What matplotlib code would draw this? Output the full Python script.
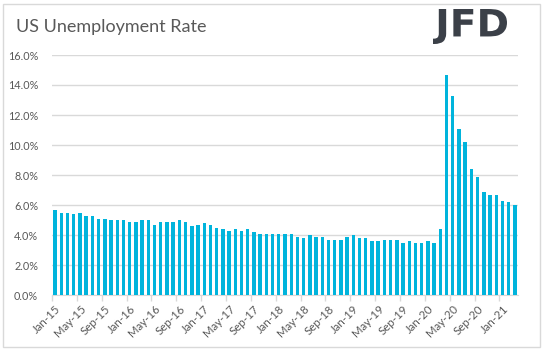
import matplotlib.pyplot as plt
from matplotlib.patches import Rectangle, PathPatch
from matplotlib.textpath import TextPath
from matplotlib.font_manager import FontProperties
from matplotlib.transforms import Affine2D
from matplotlib.ticker import FuncFormatter

# monthly US unemployment rate, Jan-15 .. Mar-21 (percent)
months = ["Jan", "Feb", "Mar", "Apr", "May", "Jun",
          "Jul", "Aug", "Sep", "Oct", "Nov", "Dec"]
years = [15, 16, 17, 18, 19, 20, 21]
rate_2015 = [5.7, 5.5, 5.5, 5.4, 5.5, 5.3, 5.3, 5.1, 5.1, 5.0, 5.0, 5.0]
rate_2016 = [4.9, 4.9, 5.0, 5.0, 4.7, 4.9, 4.9, 4.9, 5.0, 4.9, 4.6, 4.7]
rate_2017 = [4.8, 4.7, 4.5, 4.4, 4.3, 4.4, 4.3, 4.4, 4.2, 4.1, 4.1, 4.1]
rate_2018 = [4.1, 4.1, 4.1, 3.9, 3.8, 4.0, 3.9, 3.9, 3.7, 3.7, 3.7, 3.9]
rate_2019 = [4.0, 3.8, 3.8, 3.6, 3.6, 3.7, 3.7, 3.7, 3.5, 3.6, 3.5, 3.5]
rate_2020 = [3.6, 3.5, 4.4, 14.7, 13.3, 11.1, 10.2, 8.4, 7.9, 6.9, 6.7, 6.7]
rate_2021 = [6.3, 6.2, 6.0]

rates = rate_2015 + rate_2016 + rate_2017 + rate_2018 + rate_2019 + rate_2020 + rate_2021
labels = [f"{m}-{y}" for y in years for m in months][:len(rates)]

grey = "#595959"
bar_col = "#00B4DC"
font = "Lato"

fig = plt.figure(figsize=(5.43, 3.51), dpi=100)
ax = fig.add_axes([52 / 543, 1 - 295 / 351, 466 / 543, 240 / 351])

x = list(range(len(rates)))
ax.bar(x, [r / 100 for r in rates], width=0.55, color=bar_col, zorder=3)

ax.set_xlim(-0.5, len(rates) - 0.5)
ax.set_ylim(0, 0.16)
ax.set_yticks([i * 0.02 for i in range(9)])
ax.yaxis.set_major_formatter(FuncFormatter(lambda v, p: f"{v * 100:.1f}%"))
ax.grid(axis="y", color="#D9D9D9", linewidth=1, zorder=0)

# labels on every 4th category centre, tick marks at category edges
ax.set_xticks(x[::4])
ax.set_xticklabels(labels[::4], rotation=45, ha="right", rotation_mode="anchor")
ax.set_xticks([i - 0.5 for i in x[::4]], minor=True)
ax.tick_params(axis="x", which="major", length=0, pad=6, labelsize=8.3, labelcolor=grey)
ax.tick_params(axis="x", which="minor", length=4, color="#D9D9D9", width=1)
ax.tick_params(axis="y", length=0, pad=10, labelsize=7.8, labelcolor=grey)
for lab in ax.get_xticklabels() + ax.get_yticklabels():
    lab.set_family(font)

for s in ["top", "right", "left"]:
    ax.spines[s].set_visible(False)
ax.spines["bottom"].set_color("#D9D9D9")

fig.text(16 / 543, 1 - 27 / 351, "US Unemployment Rate", fontsize=13, color=grey,
         family=font, va="center", ha="left")

# logo squeezed into its box (pixels: x 433..507, y 9..44 from top)
tp = TextPath((0, 0), "JFD", size=10, prop=FontProperties(family="DejaVu Sans", weight="bold"))
ext = tp.get_extents()
x0, x1, ytop, ybot = 433, 507, 9, 44
sx = (x1 - x0) / ext.width
sy = (ybot - ytop) / ext.height
to_fig = (Affine2D().translate(-ext.x0, -ext.y0).scale(sx, sy).translate(x0, 351 - ybot)
          + Affine2D().scale(1 / 543, 1 / 351) + fig.transFigure)
fig.patches.append(PathPatch(tp, transform=to_fig, facecolor="#3B4048", edgecolor="none"))

fig.patches.append(Rectangle((2.5 / 543, 4 / 351), 537.5 / 543, 343 / 351,
                             transform=fig.transFigure, fill=False,
                             edgecolor="#D9D9D9", linewidth=1))

fig.savefig("out.png", dpi=100)
